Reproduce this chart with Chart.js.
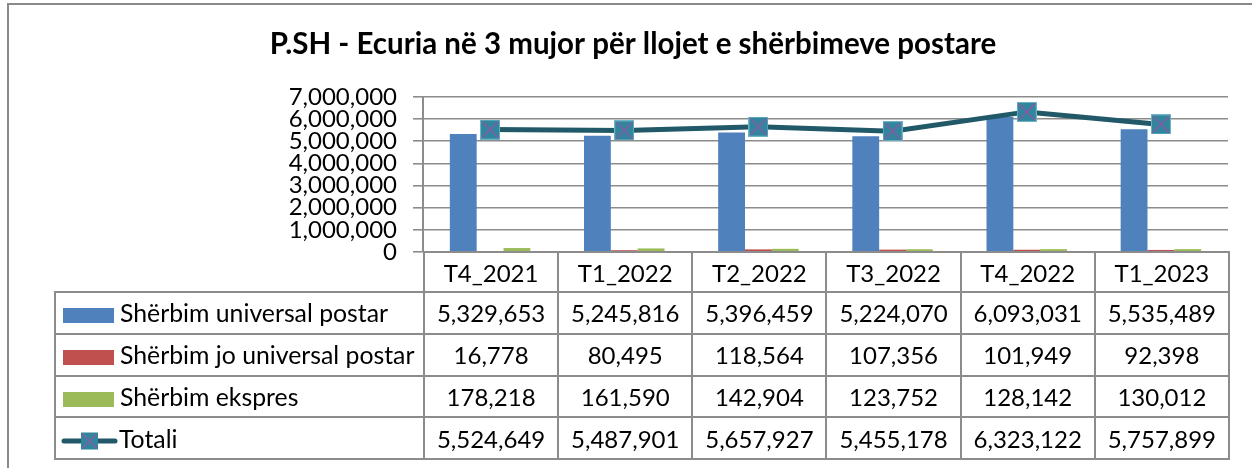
<!DOCTYPE html>
<html>
<head>
<meta charset="utf-8">
<title>P.SH - Ecuria në 3 mujor</title>
<script src="https://cdn.jsdelivr.net/npm/chart.js@4.4.1/dist/chart.umd.min.js"></script>
<style>
    html, body { margin: 0; padding: 0; background: #fff; }
    body { width: 1252px; height: 468px; overflow: hidden; position: relative; font-family: Lato, sans-serif; }
    #frame { position: absolute; left: 7px; top: 3px; width: 1300px; height: 600px; box-sizing: border-box;
             border-left: 2px solid #8a8a8a; border-top: 2px solid #8a8a8a; }
    #chart { position: absolute; left: 0; top: 0; }
    #data-table { position: absolute; border-collapse: collapse; table-layout: fixed; font-size: 24px; color: #000; }
    #data-table td { border: 2px solid #8c8c8c; text-align: center; padding: 0; white-space: nowrap; overflow: hidden; }
    #data-table td.name { text-align: left; font-size: 24.8px; }
    #data-table td.blank { border-top: hidden; border-left: hidden; }
    .sw { display: inline-block; width: 51px; height: 15px; margin: 0 6px 0 7px; vertical-align: -1px; }
    .key { display: inline-block; margin: 0 1px 0 5px; vertical-align: -4px; }
</style>
</head>
<body>
<div id="frame"></div>
<canvas id="chart" width="1252" height="468"></canvas>
<table id="data-table"></table>

<script>
    // ---- data ----
    const chartTitle = 'P.SH - Ecuria në 3 mujor për llojet e shërbimeve postare';
    const categories = ['T4_2021', 'T1_2022', 'T2_2022', 'T3_2022', 'T4_2022', 'T1_2023'];
    const seriesNames = ['Shërbim universal postar', 'Shërbim jo universal postar', 'Shërbim ekspres', 'Totali'];
    const universal = [5329653, 5245816, 5396459, 5224070, 6093031, 5535489];
    const nonUniversal = [16778, 80495, 118564, 107356, 101949, 92398];
    const express = [178218, 161590, 142904, 123752, 128142, 130012];
    const totals = [5524649, 5487901, 5657927, 5455178, 6323122, 5757899];
    const yMax = 7000000;
    const yStep = 1000000;

    const barColors = ['#4F81BD', '#C0504D', '#9BBB59'];
    const lineColor = '#215968';
    const markerFill = '#31859C';
    const markerCross = '#8B5BAA';

    const fmt = v => Number(v).toLocaleString('en-US');

    Chart.defaults.font.family = 'Lato';
    Chart.defaults.color = '#000';

    // square marker with an X, used as the line's point style
    function makeMarker(size) {
        const c = document.createElement('canvas');
        c.width = size; c.height = size;
        const g = c.getContext('2d');
        g.fillStyle = markerFill;
        g.fillRect(0, 0, size, size);
        g.strokeStyle = '#6fb3c7';
        g.lineWidth = 1;
        g.strokeRect(0.5, 0.5, size - 1, size - 1);
        g.strokeStyle = markerCross;
        g.lineWidth = 1.5;
        g.beginPath();
        g.moveTo(2, 2); g.lineTo(size - 2, size - 2);
        g.moveTo(size - 2, 2); g.lineTo(2, size - 2);
        g.stroke();
        return c;
    }
    const marker = makeMarker(20);

    const padLeft = 38;

    const chart = new Chart(document.getElementById('chart'), {
        type: 'bar',
        data: {
            labels: categories,
            datasets: [
                {
                    type: 'line',
                    label: seriesNames[3],
                    data: totals,
                    borderColor: lineColor,
                    borderWidth: 5,
                    pointStyle: marker,
                    pointRadius: 10,
                    tension: 0,
                    order: 0
                },
                { label: seriesNames[0], data: universal, backgroundColor: barColors[0], order: 1 },
                { label: seriesNames[1], data: nonUniversal, backgroundColor: barColors[1], order: 1 },
                { label: seriesNames[2], data: express, backgroundColor: barColors[2], order: 1 }
            ]
        },
        options: {
            responsive: false,
            animation: false,
            datasets: {
                bar: { categoryPercentage: 0.6, barPercentage: 1.0 }
            },
            layout: { padding: { left: padLeft, right: 24, top: 0, bottom: 216 } },
            plugins: {
                legend: { display: false },
                tooltip: { enabled: false },
                title: {
                    display: true,
                    text: chartTitle,
                    color: '#000',
                    font: { family: 'Lato', size: 29.5, weight: 'bold' },
                    padding: { top: 26.5, bottom: 35 }
                }
            },
            scales: {
                x: { display: false },
                y: {
                    min: 0,
                    max: yMax,
                    ticks: {
                        stepSize: yStep,
                        autoSkip: false,
                        color: '#000',
                        padding: 16,
                        font: { size: 24 },
                        callback: v => fmt(v)
                    },
                    grid: { color: '#8c8c8c', lineWidth: 1.6, tickLength: 10 },
                    border: { color: '#8c8c8c', width: 2 },
                    afterFit: s => { s.width = 423 - padLeft; }
                }
            }
        }
    });

    // ---- data table under the plot, columns follow the x scale ----
    function buildTable() {
        const area = chart.chartArea;
        const colW = (area.right - area.left) / categories.length;
        const tableLeft = 54;
        const firstW = area.left - tableLeft;
        const headH = 40;
        const rowH = 41.75;

        const keyLine = `<svg class="key" width="57" height="22" viewBox="0 0 57 22">
            <line x1="3" y1="11" x2="54" y2="11" stroke="${lineColor}" stroke-width="5" stroke-linecap="round"/>
            <rect x="20" y="2.5" width="17" height="17" fill="${markerFill}"/>
            <path d="M21.5 4 L35.5 18 M35.5 4 L21.5 18" stroke="${markerCross}" stroke-width="1.3"/>
        </svg>`;

        const rows = [
            { key: `<span class="sw" style="background:${barColors[0]}"></span>`, name: seriesNames[0], vals: universal },
            { key: `<span class="sw" style="background:${barColors[1]}"></span>`, name: seriesNames[1], vals: nonUniversal },
            { key: `<span class="sw" style="background:${barColors[2]}"></span>`, name: seriesNames[2], vals: express },
            { key: keyLine, name: seriesNames[3], vals: totals }
        ];

        const table = document.getElementById('data-table');
        table.style.left = tableLeft + 'px';
        table.style.top = (area.bottom - 1) + 'px';
        table.style.width = (firstW + colW * categories.length) + 'px';

        table.innerHTML = `
            <colgroup>
                <col style="width:${firstW}px">
                ${categories.map(() => `<col style="width:${colW}px">`).join('')}
            </colgroup>
            <tr style="height:${headH}px">
                <td class="blank"></td>
                ${categories.map(c => `<td>${c}</td>`).join('')}
            </tr>
            ${rows.map(r => `
                <tr style="height:${rowH}px">
                    <td class="name">${r.key}${r.name}</td>
                    ${r.vals.map(v => `<td>${fmt(v)}</td>`).join('')}
                </tr>
            `).join('')}
        `;
    }
    buildTable();
</script>
</body>
</html>
